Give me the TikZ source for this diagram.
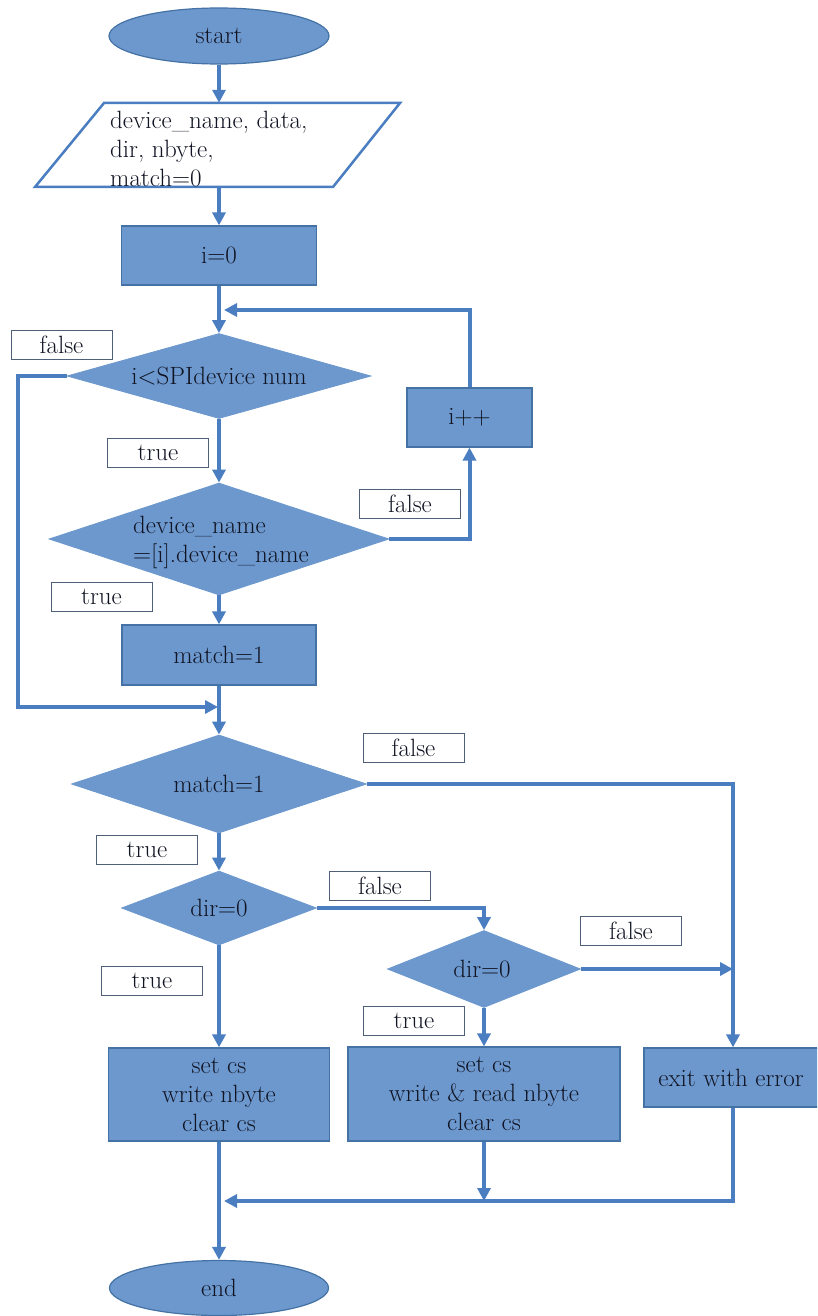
\documentclass[tikz,border=0pt]{standalone}
\usetikzlibrary{arrows.meta,shapes.geometric}

\definecolor{shapefill}{RGB}{108,152,206}
\definecolor{shapeedge}{RGB}{68,114,164}
\definecolor{flow}{RGB}{74,126,193}
\definecolor{ink}{RGB}{17,20,35}
\definecolor{tagedge}{RGB}{80,95,120}

\tikzset{
  base/.style={font=\fontsize{25}{29}\selectfont, text=ink, inner sep=0pt},
  term/.style={base, ellipse, fill=shapefill, draw=shapeedge, line width=1.2pt},
  proc/.style={base, rectangle, fill=shapefill, draw=shapeedge, line width=1.2pt, align=center},
  dec/.style={base, diamond, fill=shapefill, draw=shapefill, line width=0.8pt},
  txt/.style={base},
  tag/.style={base, rectangle, fill=white, draw=tagedge, line width=1pt,
              minimum width=101pt, minimum height=29pt},
  flowline/.style={draw=flow, line width=4pt},
  arr/.style={flowline, -{Triangle[length=13pt,width=13pt]}},
  iobox/.style={fill=white, draw=flow, line width=2.5pt, line join=miter},
}

\begin{document}
\begin{tikzpicture}[x=1pt,y=-1pt]
\useasboundingbox (0,0) rectangle (817,1316);
\clip (0,0) rectangle (817,1316);

% ---- main column ----
\node[term, minimum width=220pt, minimum height=56pt] (start) at (219,36) {start};

% input parallelogram
\draw[iobox] (104,103) -- (400,103) -- (333,187) -- (35,187) -- cycle;
\node[inner sep=0pt, minimum width=2pt, minimum height=84pt] (par) at (219,145) {};
\node[txt, anchor=west, align=left] (partext) at (110,149)
  {device\_name, data,\\dir, nbyte,\\match=0};

\node[proc, minimum width=195pt, minimum height=59pt] (i0) at (219,255.5) {i=0};

\node[dec, minimum width=304pt, minimum height=85pt] (d1) at (219,376) {};
\node[txt] (d1text) at (219,376) {i<SPIdevice num};

\node[proc, minimum width=125pt, minimum height=59pt] (iinc) at (469.5,417.5) {i++};

\node[dec, minimum width=340pt, minimum height=112pt] (d2) at (219,539) {};
\node[txt, anchor=west, align=left] (d2text) at (133,542)
  {device\_name\\=[i].device\_name};

\node[proc, minimum width=194pt, minimum height=60pt] (m1) at (219,655) {match=1};

\node[dec, minimum width=295pt, minimum height=98pt] (d3) at (219,784) {};
\node[txt] (d3text) at (219,784) {match=1};

\node[dec, minimum width=195pt, minimum height=74pt] (d4) at (219,908) {};
\node[txt] (d4text) at (219,908) {dir=0};

\node[dec, minimum width=193pt, minimum height=77pt] (d5) at (484,969) {};
\node[txt] (d5text) at (482,969) {dir=0};

\node[proc, minimum width=221pt, minimum height=93pt] (b1) at (219,1094.5)
  {set cs\\write nbyte\\clear cs};
\node[proc, minimum width=272pt, minimum height=94pt] (b2) at (484,1094)
  {set cs\\write \& read nbyte\\clear cs};
% error box runs past the right edge of the page
\node[proc, minimum width=196pt, minimum height=59pt] (exit) at (742,1077.5) {};
\node[txt] (exittext) at (731,1077.5) {exit with error};
\coordinate (errx) at (733,1077.5);

\node[term, minimum width=219pt, minimum height=55pt] (end) at (219,1288) {end};

% ---- branch labels ----
\node[tag] (f1) at (61.5,345) {false};
\node[tag] (t1) at (158,452.5) {true};
\node[tag] (f2) at (410,503.5) {false};
\node[tag] (t2) at (101.5,597) {true};
\node[tag] (f3) at (413.5,748) {false};
\node[tag] (t3) at (147,849.5) {true};
\node[tag] (f4) at (380,885.5) {false};
\node[tag] (f5) at (631,930.5) {false};
\node[tag] (t4) at (152,980.5) {true};
\node[tag] (t5) at (414,1021) {true};

% ---- junction points ----
\coordinate (loopj) at (219,310);
\coordinate (join1) at (219,707);
\coordinate (join2) at (219,1201);

% ---- connectors ----
\draw[arr] (start) -- (par);
\draw[arr] (par) -- (i0);
\draw[arr] (i0) -- (d1);
\draw[arr] (d1) -- (d2);
\draw[arr] (d2) -- (m1);
\draw[arr] (d2.east) -| (iinc.south);
\draw[arr, shorten >=5pt] (iinc.north) |- (loopj);
\draw[arr, shorten >=1pt] (d1.west) -- ++(-49,0) |- (join1);
\draw[arr] (m1) -- (d3);
\draw[arr] (d3) -- (d4);
\draw[arr] (d3.east) -| (errx |- exit.north);
\draw[arr] (d4.east) -| (d5.north);
\draw[arr] (d5.east) -- (d5.east -| errx);
\draw[arr] (d4) -- (b1);
\draw[arr] (d5) -- (b2);
\draw[arr] (b1) -- (end);
\draw[arr] (b2.south) -- (b2.south |- join2);
\draw[arr, shorten >=5pt] (errx |- exit.south) |- (join2);

\end{tikzpicture}
\end{document}
